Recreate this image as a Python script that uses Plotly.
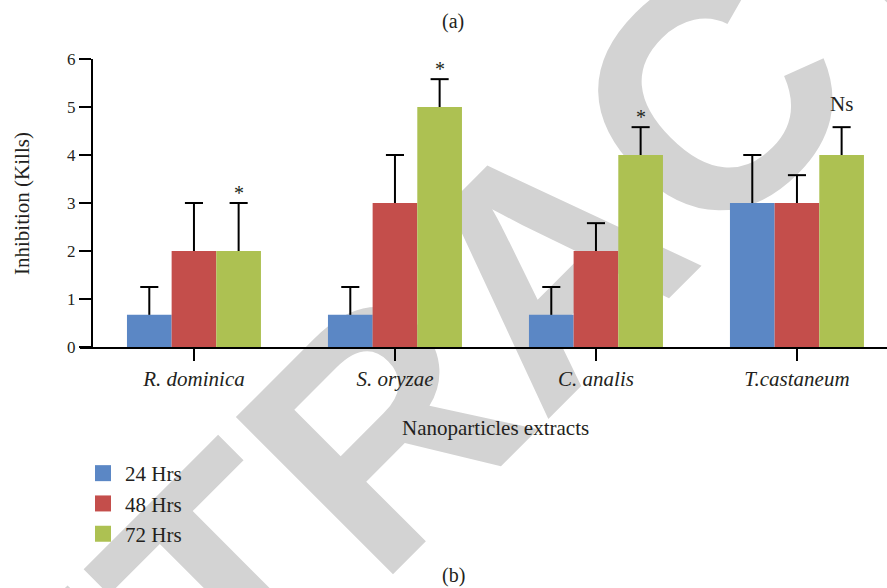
import plotly.graph_objects as go

# ---------------- data ----------------
categories = ["R. dominica", "S. oryzae", "C. analis", "T.castaneum"]
series_names = ["24 Hrs", "48 Hrs", "72 Hrs"]
kills_24h = [0.67, 0.67, 0.67, 3.0]
kills_48h = [2.0, 3.0, 2.0, 3.0]
kills_72h = [2.0, 5.0, 4.0, 4.0]
sd_24h = [0.58, 0.58, 0.58, 1.0]
sd_48h = [1.0, 1.0, 0.58, 0.58]
sd_72h = [1.0, 0.58, 0.58, 0.58]
significance_72h = ["*", "*", "*", "Ns"]
y_ticks = [0, 1, 2, 3, 4, 5, 6]

# ---------------- style ----------------
W, H = 887, 588
M_L, M_R, M_T, M_B = 80, 0, 59, 241
PW, PH = W - M_L - M_R, H - M_T - M_B
colors = ["#5B87C5", "#C44E4B", "#ADC152"]
ink = "#231f20"
serif = "Liberation Serif"
bar_gap = 1 / 3
n_series = len(series_names)
bar_w = (1 - bar_gap) / n_series
cap_half = 0.045


def px_x(px):
    """pixel column -> paper x"""
    return (px - M_L) / PW


def px_y(py):
    """pixel row -> paper y"""
    return (H - M_B - py) / PH


x_pos = list(range(len(categories)))
values = [kills_24h, kills_48h, kills_72h]
errors = [sd_24h, sd_48h, sd_72h]

fig = go.Figure()

# grouped bars
for name, vals, col in zip(series_names, values, colors):
    fig.add_trace(go.Bar(x=x_pos, y=vals, name=name,
                         marker=dict(color=col, line_width=0),
                         showlegend=False))

# upper error whiskers with caps
for j, (vals, errs) in enumerate(zip(values, errors)):
    off = (j - (n_series - 1) / 2) * bar_w
    ex, ey = [], []
    for i, (v, e) in enumerate(zip(vals, errs)):
        xc = i + off
        ex += [xc, xc, None, xc - cap_half, xc + cap_half, None]
        ey += [v, v + e, None, v + e, v + e, None]
    fig.add_trace(go.Scatter(x=ex, y=ey, mode="lines",
                             line=dict(color="black", width=2),
                             showlegend=False, hoverinfo="skip"))

# legend entries (square swatches)
for name, col in zip(series_names, colors):
    fig.add_trace(go.Scatter(x=[None], y=[None], mode="markers", name=name,
                             marker=dict(symbol="square", size=16, color=col)))

# significance marks above the 72 h bars
for i, (v, e, s) in enumerate(zip(kills_72h, sd_72h, significance_72h)):
    fig.add_annotation(x=i + bar_w, y=v + e, text=s, showarrow=False,
                       xref="x", yref="y", yanchor="bottom",
                       font=dict(size=21 if s != "*" else 20, color=ink, family=serif),
                       yshift=-3 if s == "*" else 9)

# panel labels, axis titles
common = dict(showarrow=False, xanchor="center", yanchor="middle")
fig.add_annotation(x=px_x(453), y=px_y(21), xref="paper", yref="paper",
                   text="(a)", font=dict(size=20, color=ink, family=serif), **common)
fig.add_annotation(x=px_x(453), y=px_y(575), xref="paper", yref="paper",
                   text="(b)", font=dict(size=20, color=ink, family=serif), **common)
fig.add_annotation(x=1.5, y=px_y(428), xref="x", yref="paper",
                   text="Nanoparticles extracts",
                   font=dict(size=21, color=ink, family=serif), **common)
fig.add_annotation(x=px_x(22), y=0.5, xref="paper", yref="paper",
                   text="Inhibition (Kills)", textangle=-90,
                   font=dict(size=21, color=ink, family=serif), **common)

# watermark
wx, wy = px_x(524), px_y(241)
fig.add_shape(type="rect", xref="paper", yref="paper",
              x0=wx - 0.002, x1=wx + 0.002, y0=wy - 0.002, y1=wy + 0.002,
              layer="below", line=dict(width=0), fillcolor="rgba(0,0,0,0)",
              label=dict(text="RETRACTED", textangle=-45, textposition="middle center",
                         font=dict(family="Liberation Sans", size=323,
                                   color="#d3d3d3", weight="bold")))

fig.update_layout(
    width=W, height=H,
    margin=dict(l=M_L, r=M_R, t=M_T, b=M_B, pad=0, autoexpand=False),
    paper_bgcolor="white", plot_bgcolor="rgba(0,0,0,0)",
    barmode="group", bargap=bar_gap, bargroupgap=0,
    font=dict(family=serif, color=ink, size=21),
    showlegend=True,
    legend=dict(x=px_x(81), y=px_y(453), xanchor="left", yanchor="top",
                itemsizing="trace", itemwidth=34,
                font=dict(size=21, color=ink, family=serif),
                bgcolor="rgba(0,0,0,0)", borderwidth=0, tracegroupgap=0),
    xaxis=dict(range=[-0.567, 3.448], tickmode="array", tickvals=x_pos,
               ticktext=[f"<i>{c}</i>" for c in categories],
               tickfont=dict(size=21, color=ink, family=serif),
               showline=True, linecolor="black", linewidth=2,
               ticks="outside", ticklen=12, tickwidth=2, tickcolor="black",
               showgrid=False, zeroline=False, automargin=False),
    yaxis=dict(range=[0, 6], tickmode="array", tickvals=y_ticks,
               anchor="free", position=px_x(92),
               tickfont=dict(size=17, color=ink, family=serif),
               showline=True, linecolor="black", linewidth=2,
               ticks="outside", ticklen=12, tickwidth=2, tickcolor="black",
               showgrid=False, zeroline=False, automargin=False),
)

fig.write_html("out.html")
